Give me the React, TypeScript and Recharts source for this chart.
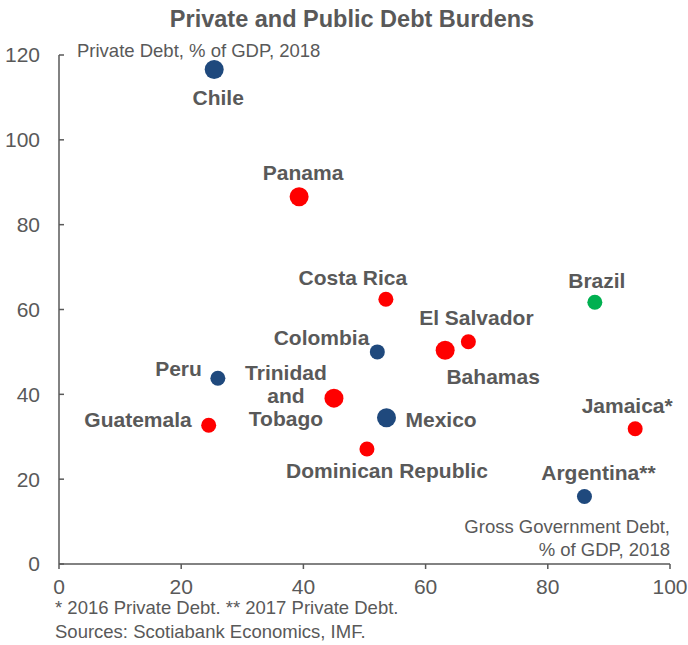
import { ScatterChart, Scatter, XAxis, YAxis } from "recharts";

const countries = [
  "Chile",
  "Panama",
  "Costa Rica",
  "Brazil",
  "El Salvador",
  "Bahamas",
  "Colombia",
  "Peru",
  "Trinidad and Tobago",
  "Mexico",
  "Guatemala",
  "Dominican Republic",
  "Jamaica*",
  "Argentina**",
];
const govDebt = [25.4, 39.3, 53.5, 87.7, 67.0, 63.2, 52.1, 26.0, 45.0, 53.6, 24.5, 50.4, 94.3, 86.0];
const privateDebt = [116.6, 86.6, 62.4, 61.7, 52.4, 50.4, 50.0, 43.8, 39.1, 34.5, 32.7, 27.1, 31.9, 15.9];
const groups = ["A", "C", "C", "B", "C", "C", "A", "A", "C", "A", "C", "C", "C", "A"];
const xTicks = [0, 20, 40, 60, 80, 100];
const yTicks = [0, 20, 40, 60, 80, 100, 120];

const data = countries.map((name, i) => ({
  name,
  x: govDebt[i],
  y: privateDebt[i],
  group: groups[i],
}));

const GREY = "#595959";
const groupColor: Record<string, string> = { A: "#1F497D", B: "#00B050", C: "#FF0000" };
const bigDots = new Set(["Chile", "Panama", "Bahamas", "Trinidad and Tobago", "Mexico"]);

// label placement relative to the dot centre: [dx, dy to baseline, anchor]
const labelPos: Record<string, [number, number | number[], string]> = {
  Chile: [4, 36, "middle"],
  Panama: [4, -17, "middle"],
  "Costa Rica": [-33, -14, "middle"],
  Brazil: [2, -14, "middle"],
  "El Salvador": [8, -17, "middle"],
  Bahamas: [48, 34, "middle"],
  Colombia: [-8, -7, "end"],
  Peru: [-16, -2, "end"],
  "Trinidad and Tobago": [-48, [-18, 5, 28], "middle"],
  Mexico: [19, 9, "start"],
  Guatemala: [-17, 2, "end"],
  "Dominican Republic": [20, 29, "middle"],
  "Jamaica*": [-8, -16, "middle"],
  "Argentina**": [14, -17, "middle"],
};

const Dot = (props: any) => {
  const { cx, cy, payload } = props;
  const [dx, dy, anchor] = labelPos[payload.name];
  const lines =
    payload.name === "Trinidad and Tobago" ? ["Trinidad", "and", "Tobago"] : [payload.name];
  const dys = Array.isArray(dy) ? dy : [dy];
  return (
    <g>
      <circle
        cx={cx}
        cy={cy}
        r={bigDots.has(payload.name) ? 9.5 : 7.5}
        fill={groupColor[payload.group]}
      />
      {lines.map((t, i) => (
        <text
          key={t}
          x={cx + dx}
          y={cy + dys[i]}
          textAnchor={anchor}
          fontSize={21}
          fontWeight="bold"
          fill={GREY}
        >
          {t}
        </text>
      ))}
    </g>
  );
};

const YTick = (props: any) => {
  const { x, y, payload } = props;
  return (
    <g>
      <line x1={x} x2={x + 5} y1={y} y2={y} stroke={GREY} strokeWidth={1.5} />
      <text x={x - 19} y={y} dy="0.355em" textAnchor="end" fontSize={21} fill={GREY}>
        {payload.value}
      </text>
    </g>
  );
};

export default function App() {
  return (
    <div
      style={{
        position: "absolute",
        left: 0,
        top: 0,
        width: 688,
        height: 645,
        background: "#fff",
        fontFamily: "'Liberation Sans', Arial, sans-serif",
      }}
    >
      <ScatterChart
        width={688}
        height={645}
        margin={{ top: 55, right: 18, bottom: 51, left: 0 }}
      >
        <XAxis
          type="number"
          dataKey="x"
          domain={[0, 100]}
          ticks={xTicks}
          interval={0}
          height={30}
          axisLine={{ stroke: GREY, strokeWidth: 1.5 }}
          tickLine={{ stroke: GREY, strokeWidth: 1.5 }}
          tickSize={5}
          tickMargin={10}
          tick={{ fill: GREY, fontSize: 21 }}
        />
        <YAxis
          type="number"
          dataKey="y"
          domain={[0, 120]}
          ticks={yTicks}
          interval={0}
          width={59}
          axisLine={{ stroke: GREY, strokeWidth: 1.5 }}
          tickLine={false}
          tickSize={0}
          tickMargin={0}
          tick={<YTick />}
        />
        <Scatter data={data} shape={<Dot />} isAnimationActive={false} />
      </ScatterChart>
      <svg
        width={688}
        height={645}
        style={{ position: "absolute", left: 0, top: 0, pointerEvents: "none" }}
      >
        <text x={352} y={27} textAnchor="middle" fontSize={23.5} fontWeight="bold" fill={GREY}>
          Private and Public Debt Burdens
        </text>
        <text x={77} y={57} fontSize={18.5} fill={GREY}>
          Private Debt, % of GDP, 2018
        </text>
        <text x={670} y={533} textAnchor="end" fontSize={18.5} fill={GREY}>
          Gross Government Debt,
        </text>
        <text x={670} y={556} textAnchor="end" fontSize={18.5} fill={GREY}>
          % of GDP, 2018
        </text>
        <text x={55} y={614} fontSize={18.5} fill={GREY}>
          * 2016 Private Debt. ** 2017 Private Debt.
        </text>
        <text x={55} y={638} fontSize={18.5} fill={GREY}>
          Sources: Scotiabank Economics, IMF.
        </text>
      </svg>
    </div>
  );
}
